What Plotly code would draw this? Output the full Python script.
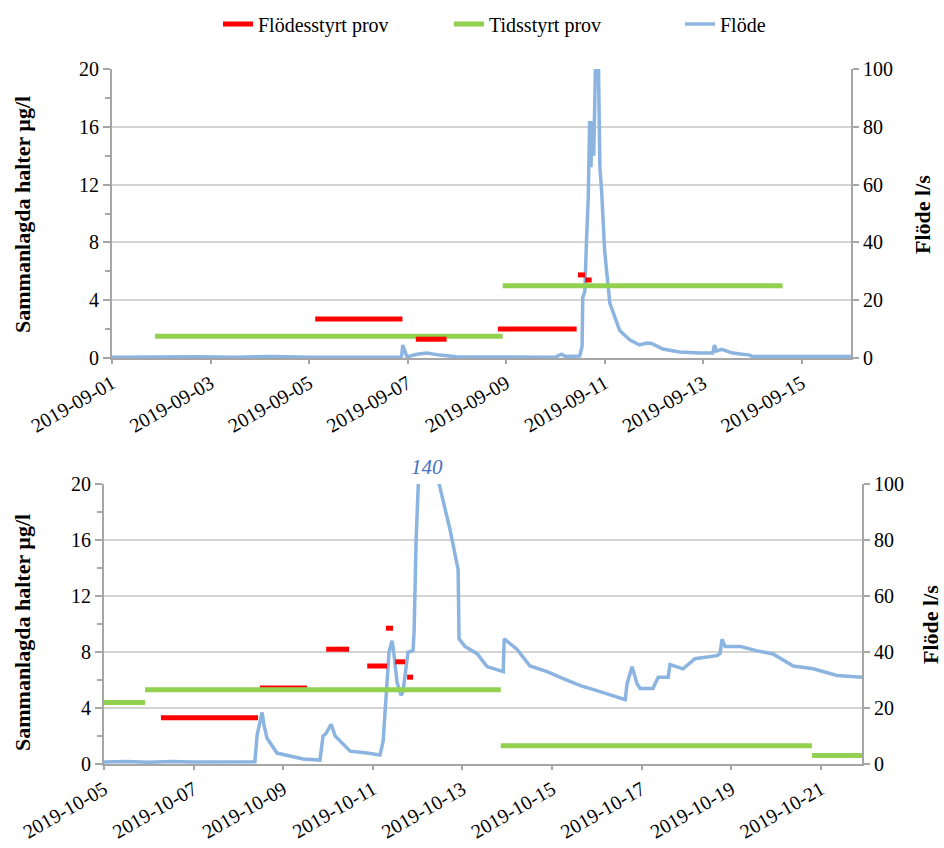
import plotly.graph_objects as go

# ---------------- DATA ----------------
# Top panel (September 2019)
top_red_start = ["2019-09-05 03:00", "2019-09-07 04:00", "2019-09-08 20:00", "2019-09-10 11:00", "2019-09-10 14:30"]
top_red_end = ["2019-09-06 21:30", "2019-09-07 19:00", "2019-09-10 10:20", "2019-09-10 14:30", "2019-09-10 17:40"]
top_red_value = [2.7, 1.3, 2.0, 5.75, 5.4]

top_green_start = ["2019-09-01 21:00", "2019-09-08 22:20"]
top_green_end = ["2019-09-08 22:20", "2019-09-14 14:40"]
top_green_value = [1.5, 5.0]

top_flow_time = [
    "2019-09-01 00:00", "2019-09-01 12:00", "2019-09-02 00:00", "2019-09-02 18:00", "2019-09-03 12:00",
    "2019-09-04 06:00", "2019-09-05 00:00", "2019-09-05 12:00", "2019-09-06 12:00", "2019-09-06 21:00",
    "2019-09-06 21:40", "2019-09-06 23:40", "2019-09-07 04:30", "2019-09-07 09:20", "2019-09-07 15:40",
    "2019-09-08 00:00", "2019-09-09 00:00", "2019-09-09 12:00", "2019-09-10 00:00", "2019-09-10 03:00",
    "2019-09-10 05:00", "2019-09-10 11:50", "2019-09-10 13:00", "2019-09-10 13:20", "2019-09-10 14:20",
    "2019-09-10 15:10", "2019-09-10 16:00", "2019-09-10 16:40", "2019-09-10 17:20", "2019-09-10 18:00",
    "2019-09-10 18:40", "2019-09-10 19:30", "2019-09-10 20:20", "2019-09-10 21:00", "2019-09-10 21:40",
    "2019-09-10 22:30", "2019-09-11 00:00", "2019-09-11 02:30", "2019-09-11 07:20", "2019-09-11 12:10",
    "2019-09-11 17:00", "2019-09-11 20:30", "2019-09-11 22:50", "2019-09-12 04:20", "2019-09-12 12:30",
    "2019-09-12 22:20", "2019-09-13 04:40", "2019-09-13 05:30", "2019-09-13 06:30", "2019-09-13 09:00",
    "2019-09-13 14:20", "2019-09-13 22:40", "2019-09-14 00:00", "2019-09-15 00:00", "2019-09-16 00:00",
]
top_flow_value = [
    0.3, 0.4, 0.3, 0.4, 0.3,
    0.5, 0.3, 0.4, 0.3, 0.3,
    4.5, 0.4, 1.3, 1.7, 1.0,
    0.4, 0.3, 0.4, 0.3, 1.3,
    0.5, 0.7, 4.0, 21, 23,
    41, 55, 82, 66, 82,
    70, 100, 112, 100, 66,
    58, 37, 19, 9.5, 6.3,
    4.5, 5.2, 5.0, 3.1, 2.1,
    1.7, 1.7, 4.5, 2.4, 3.0,
    1.7, 1.0, 0.5, 0.5, 0.5,
]

# Bottom panel (October 2019)
bot_red_start = ["2019-10-06 06:30", "2019-10-08 11:30", "2019-10-09 23:00", "2019-10-10 21:00",
                 "2019-10-11 07:00", "2019-10-11 12:00", "2019-10-11 18:20"]
bot_red_end = ["2019-10-08 10:30", "2019-10-09 12:45", "2019-10-10 11:15", "2019-10-11 07:40",
               "2019-10-11 10:50", "2019-10-11 17:15", "2019-10-11 21:30"]
bot_red_value = [3.3, 5.5, 8.2, 7.0, 9.7, 7.3, 6.2]

bot_green_start = ["2019-10-05 00:00", "2019-10-05 22:00", "2019-10-13 20:30", "2019-10-20 19:15"]
bot_green_end = ["2019-10-05 22:00", "2019-10-13 20:30", "2019-10-20 19:15", "2019-10-21 22:00"]
bot_green_value = [4.4, 5.3, 1.3, 0.6]

bot_flow_time = [
    "2019-10-05 00:00", "2019-10-05 12:00", "2019-10-06 00:00", "2019-10-06 12:00", "2019-10-07 00:00",
    "2019-10-07 12:00", "2019-10-08 00:00", "2019-10-08 08:50", "2019-10-08 10:00", "2019-10-08 11:00",
    "2019-10-08 12:40", "2019-10-08 13:40", "2019-10-08 15:20", "2019-10-08 20:40", "2019-10-09 03:40",
    "2019-10-09 10:40", "2019-10-09 19:40", "2019-10-09 21:20", "2019-10-09 23:00", "2019-10-10 01:40",
    "2019-10-10 03:50", "2019-10-10 11:50", "2019-10-10 20:50", "2019-10-11 03:50", "2019-10-11 05:30",
    "2019-10-11 07:00", "2019-10-11 08:40", "2019-10-11 10:15", "2019-10-11 10:50", "2019-10-11 13:00",
    "2019-10-11 15:10", "2019-10-11 16:10", "2019-10-11 17:50", "2019-10-11 18:50", "2019-10-11 21:30",
    "2019-10-11 22:05", "2019-10-11 23:10", "2019-10-11 23:40", "2019-10-12 01:50", "2019-10-12 05:00",
    "2019-10-12 08:10", "2019-10-12 11:30", "2019-10-12 17:20", "2019-10-12 21:40", "2019-10-12 22:10",
    "2019-10-13 01:20", "2019-10-13 07:50", "2019-10-13 13:10", "2019-10-13 21:50", "2019-10-13 22:20",
    "2019-10-14 05:10", "2019-10-14 12:10", "2019-10-14 21:20", "2019-10-15 06:00", "2019-10-15 15:10",
    "2019-10-16 00:00", "2019-10-16 08:40", "2019-10-16 15:10", "2019-10-16 16:10", "2019-10-16 18:50",
    "2019-10-16 21:30", "2019-10-16 23:10", "2019-10-17 06:00", "2019-10-17 08:50", "2019-10-17 14:10",
    "2019-10-17 15:10", "2019-10-17 22:10", "2019-10-18 04:30", "2019-10-18 16:20", "2019-10-18 18:00",
    "2019-10-18 19:00", "2019-10-18 20:40", "2019-10-19 04:50", "2019-10-19 13:50", "2019-10-19 22:20",
    "2019-10-20 09:10", "2019-10-20 19:50", "2019-10-21 08:40", "2019-10-21 22:00",
]
bot_flow_value = [
    0.7, 0.9, 0.6, 0.9, 0.7,
    0.8, 0.7, 0.8, 10.3, 13,
    18.4, 14, 9.2, 3.9, 2.8,
    1.8, 1.4, 10, 11, 14.2,
    10, 4.6, 3.9, 3.2, 8.1,
    22, 40, 44, 42, 29,
    24.5, 26, 34, 40, 40.5,
    47, 80, 100, 125, 140,
    125, 100, 83.7, 69.5, 44.7,
    42, 39.4, 34.8, 33, 44.7,
    41, 35, 33, 30.5, 28,
    26.2, 24.5, 23, 28.7, 34.7,
    28.7, 27, 27, 31, 31,
    35.5, 34, 37.6, 38.7, 39.5,
    44.6, 42, 42, 40.4, 39.3,
    35, 34, 31.6, 31,
]

conc_ticks = [0, 4, 8, 12, 16, 20]
flow_ticks = [0, 20, 40, 60, 80, 100]
top_date_ticks = ["2019-09-01", "2019-09-03", "2019-09-05", "2019-09-07", "2019-09-09",
                  "2019-09-11", "2019-09-13", "2019-09-15"]
bot_date_ticks = ["2019-10-05", "2019-10-07", "2019-10-09", "2019-10-11", "2019-10-13",
                  "2019-10-15", "2019-10-17", "2019-10-19", "2019-10-21"]

# ---------------- STYLE ----------------
W, H = 944, 848
FONT = "Liberation Serif, Times New Roman, serif"
RED = "#ff0000"
GREEN = "#92d050"
BLUE = "#8cb4e0"
AXIS = "#a6a6a6"
GRID = "#d4d4d4"


def segs(starts, ends, values):
    xs, ys = [], []
    for s, e, v in zip(starts, ends, values):
        xs += [s, e, None]
        ys += [v, v, None]
    return xs, ys


def px(x0, x1):
    return [x0 / W, x1 / W]


def py(top, bottom):
    return [1 - bottom / H, 1 - top / H]


fig = go.Figure()

# Top panel: flow on base axis (y), concentration on overlay (y2)
fig.add_trace(go.Scatter(x=top_flow_time, y=top_flow_value, mode="lines", name="Flöde",
                         line=dict(color=BLUE, width=3.5), xaxis="x", yaxis="y", legendrank=3))
gx, gy = segs(top_green_start, top_green_end, top_green_value)
fig.add_trace(go.Scatter(x=gx, y=gy, mode="lines", name="Tidsstyrt prov",
                         line=dict(color=GREEN, width=5), xaxis="x", yaxis="y2", legendrank=2))
rx, ry = segs(top_red_start, top_red_end, top_red_value)
fig.add_trace(go.Scatter(x=rx, y=ry, mode="lines", name="Flödesstyrt prov",
                         line=dict(color=RED, width=5), xaxis="x", yaxis="y2", legendrank=1))

# Bottom panel
fig.add_trace(go.Scatter(x=bot_flow_time, y=bot_flow_value, mode="lines", name="Flöde", showlegend=False,
                         line=dict(color=BLUE, width=3.5), xaxis="x2", yaxis="y3"))
rx, ry = segs(bot_red_start[1:2], bot_red_end[1:2], bot_red_value[1:2])
fig.add_trace(go.Scatter(x=rx, y=ry, mode="lines", showlegend=False,
                         line=dict(color=RED, width=3), xaxis="x2", yaxis="y4"))
gx, gy = segs(bot_green_start, bot_green_end, bot_green_value)
fig.add_trace(go.Scatter(x=gx, y=gy, mode="lines", showlegend=False,
                         line=dict(color=GREEN, width=5), xaxis="x2", yaxis="y4"))
idx = [0] + list(range(2, len(bot_red_value)))
rx, ry = segs([bot_red_start[i] for i in idx], [bot_red_end[i] for i in idx], [bot_red_value[i] for i in idx])
fig.add_trace(go.Scatter(x=rx, y=ry, mode="lines", showlegend=False,
                         line=dict(color=RED, width=5), xaxis="x2", yaxis="y4"))

tickfont = dict(family=FONT, size=20, color="black")

xcommon = dict(type="date", showline=True, linecolor=AXIS, linewidth=2, ticks="outside",
               ticklen=4, tickcolor=AXIS, tickwidth=1.5, tickangle=-30, showgrid=False,
               tickfont=dict(family=FONT, size=20, color="black"), tickformat="%Y-%m-%d",
               zeroline=False, automargin=False)
flow_common = dict(range=[0, 100], tickvals=flow_ticks, showline=True, linecolor=AXIS, linewidth=2,
                   ticks="outside", ticklen=6, tickcolor=AXIS, tickwidth=1.5, side="right",
                   showgrid=True, gridcolor=GRID, gridwidth=1.5, tickfont=tickfont, zeroline=False,
                   automargin=False)
conc_common = dict(range=[0, 20], tickvals=conc_ticks, showline=True, linecolor=AXIS, linewidth=2,
                   ticks="outside", ticklen=7, tickcolor=AXIS, tickwidth=1.5, side="left",
                   showgrid=False, tickfont=tickfont, zeroline=False, automargin=False,
                   minor=dict(tickvals=[2, 6, 10, 14, 18], ticks="outside", ticklen=5,
                              tickcolor=AXIS, tickwidth=1.5))

fig.update_layout(
    width=W, height=H,
    margin=dict(l=0, r=0, t=0, b=0, autoexpand=False),
    paper_bgcolor="white", plot_bgcolor="white",
    font=dict(family=FONT, size=20, color="black"),
    showlegend=True,
    legend=dict(orientation="h", x=218 / W, xanchor="left", y=1 - 24 / H, yanchor="middle",
                font=dict(family=FONT, size=20, color="black"),
                entrywidth=186, entrywidthmode="pixels", bgcolor="rgba(0,0,0,0)"),
    xaxis=dict(domain=px(112, 851), anchor="y",
               range=["2019-09-01 00:00", "2019-09-16 00:00"], tickvals=top_date_ticks, **xcommon),
    yaxis=dict(domain=py(69, 358), anchor="x", **flow_common),
    yaxis2=dict(overlaying="y", anchor="x", **conc_common),
    xaxis2=dict(domain=px(104, 862), anchor="y3",
                range=["2019-10-05 00:00", "2019-10-21 22:00"], tickvals=bot_date_ticks, **xcommon),
    yaxis3=dict(domain=py(484, 764), anchor="x2", **flow_common),
    yaxis4=dict(overlaying="y3", anchor="x2", **conc_common),
)

peak_i = max(range(len(bot_flow_value)), key=lambda i: bot_flow_value[i])
title_font = dict(family=FONT, size=22, color="black")
annotations = [
    dict(text="<b>Sammanlagda halter µg/l</b>", x=22 / W, y=1 - 215 / H, xref="paper", yref="paper",
         xanchor="center", yanchor="middle", textangle=-90, showarrow=False, font=title_font),
    dict(text="<b>Flöde l/s</b>", x=922 / W, y=1 - 215 / H, xref="paper", yref="paper",
         xanchor="center", yanchor="middle", textangle=-90, showarrow=False, font=title_font),
    dict(text="<b>Sammanlagda halter µg/l</b>", x=22 / W, y=1 - 633 / H, xref="paper", yref="paper",
         xanchor="center", yanchor="middle", textangle=-90, showarrow=False, font=title_font),
    dict(text="<b>Flöde l/s</b>", x=930 / W, y=1 - 625 / H, xref="paper", yref="paper",
         xanchor="center", yanchor="middle", textangle=-90, showarrow=False, font=title_font),
    dict(text="<i>%d</i>" % bot_flow_value[peak_i], x=bot_flow_time[peak_i], y=1 - 467 / H,
         xref="x2", yref="paper", xanchor="center", yanchor="middle", showarrow=False,
         font=dict(family=FONT, size=21, color="#4472c4")),
]
fig.update_layout(annotations=annotations)

fig.write_html("out.html")
